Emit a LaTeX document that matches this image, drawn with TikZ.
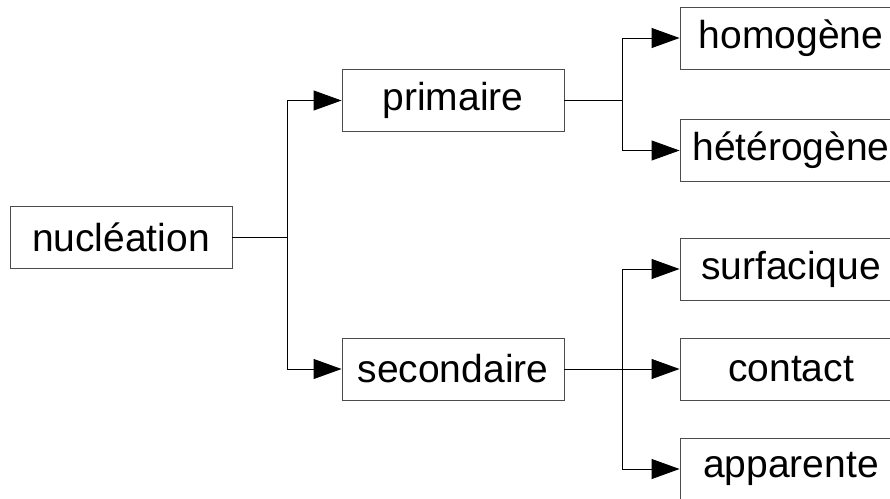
\documentclass[tikz,border=0pt]{standalone}
\usepackage{fontspec}
\setmainfont{Liberation Sans}
\usetikzlibrary{arrows.meta}
\begin{document}
\begin{tikzpicture}[x=1pt,y=-1pt,
  box/.style={draw=black!70,line width=0.9pt,minimum width=222pt,minimum height=62pt,inner sep=0pt,
    font=\fontsize{39}{44}\selectfont},
  conn/.style={line width=0.9pt,draw=black},
  arr/.style={conn,-{Triangle[length=28pt,width=20pt]}}]
\clip (0,0) rectangle (890,498);
\useasboundingbox (0,0) rectangle (890,498);
\node[box] (nuc) at (121,237.5) {nucléation};
\node[box] (prim) at (453,100.5) {primaire};
\node[box] (sec) at (453,369) {secondaire};
\node[box] (homo) at (791,38) {homogène};
\node[box] (het) at (791,150.5) {hétérogène};
\node[box] (surf) at (791,269) {surfacique};
\node[box] (cont) at (791,369) {contact};
\node[box] (app) at (791,469) {apparente};
\coordinate (b1) at (287,237.5);
\coordinate (b2) at (622,100.5);
\coordinate (b3) at (622,369);
\draw[conn] (nuc.east) -- (b1);
\draw[arr] (b1) |- (prim.west);
\draw[arr] (b1) |- (sec.west);
\draw[conn] (prim.east) -- (b2);
\draw[arr] (b2) |- (homo.west);
\draw[arr] (b2) |- (het.west);
\draw[arr] (sec.east) -- (cont.west);
\draw[arr] (b3) |- (surf.west);
\draw[arr] (b3) |- (app.west);
\end{tikzpicture}
\end{document}
